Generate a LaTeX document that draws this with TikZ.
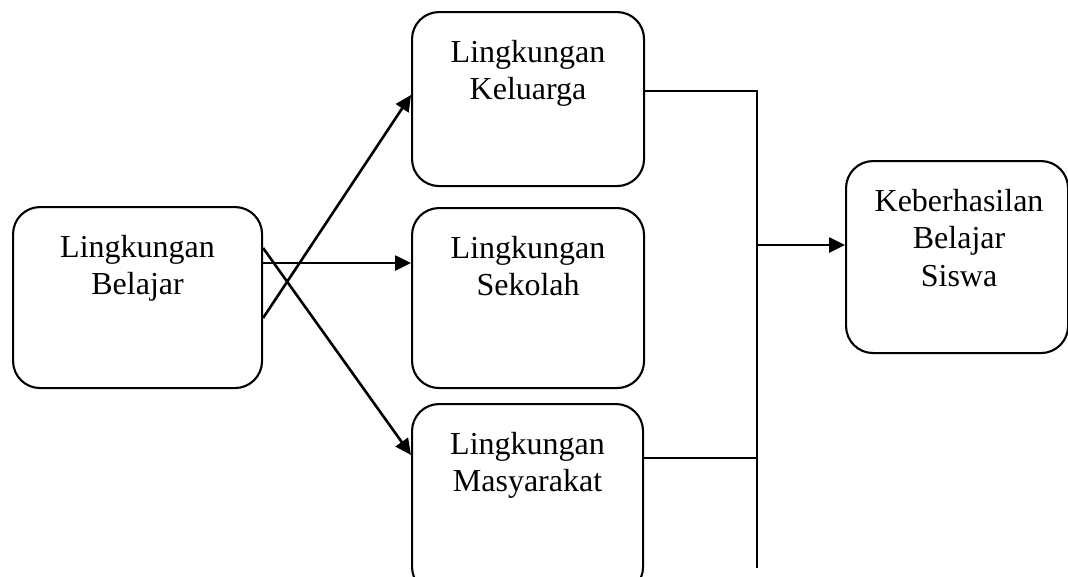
\documentclass[tikz,border=0pt]{standalone}
\usepackage{fontspec}
\setmainfont{Liberation Serif}
\usetikzlibrary{arrows.meta,calc}
\tikzset{
  box/.style={draw=black, line width=2.1pt, rounded corners=27pt, rectangle, inner sep=0pt},
  lbl/.style={align=center, inner sep=0pt, anchor=north, font=\fontsize{32}{37.5}\selectfont},
  conn/.style={line width=2.6pt, -{Triangle[length=16pt,width=15pt]}},
  wire/.style={line width=2.1pt}
}
\begin{document}
\begin{tikzpicture}[x=1pt,y=-1pt]
\clip (0,0) rectangle (1068,576);
\fill[white] (0,0) rectangle (1068,576);
% boxes
\node[box, minimum width=249pt, minimum height=181pt, anchor=north west] (bel) at (12,206) {};
\node[box, minimum width=232pt, minimum height=174pt, anchor=north west] (kel) at (411,11) {};
\node[box, minimum width=232pt, minimum height=180pt, anchor=north west] (sek) at (411,207) {};
\node[box, minimum width=231pt, minimum height=190pt, anchor=north west] (mas) at (411,403) {};
\node[box, minimum width=222pt, minimum height=192pt, anchor=north west] (kbs) at (845,160) {};
% labels
\node[lbl] (belT) at ($(bel.north)+(0,29)$) {Lingkungan\\Belajar};
\node[lbl] (kelT) at ($(kel.north)+(0,29)$) {Lingkungan\\Keluarga};
\node[lbl] (sekT) at ($(sek.north)+(0,29)$) {Lingkungan\\Sekolah};
\node[lbl] (masT) at ($(mas.north)+(0,29)$) {Lingkungan\\Masyarakat};
\node[lbl] (kbsT) at ($(kbs.north)+(2,29)$) {Keberhasilan\\Belajar\\Siswa};
% bus coordinates
\coordinate (busTop) at (757,91);
\coordinate (busMid) at (757,245);
\coordinate (busMas) at (757,458);
\coordinate (busBot) at (757,568);
% arrows from Lingkungan Belajar
\draw[conn] ($(bel.north east)+(0,112)$) -- ($(kel.north west)+(0,84)$);
\draw[conn] ($(bel.north east)+(0,57)$) -- ($(sek.north west)+(0,56)$);
\draw[conn] ($(bel.north east)+(0,42)$) -- ($(mas.north west)+(0,52)$);
% bus
\draw[wire] ($(kel.north east)+(0,80)$) -- (busTop) -- (busBot);
\draw[wire] ($(mas.north east)+(0,55)$) -- (busMas);
\draw[conn] (busMid) -- (kbs.west |- busMid);
\end{tikzpicture}
\end{document}
